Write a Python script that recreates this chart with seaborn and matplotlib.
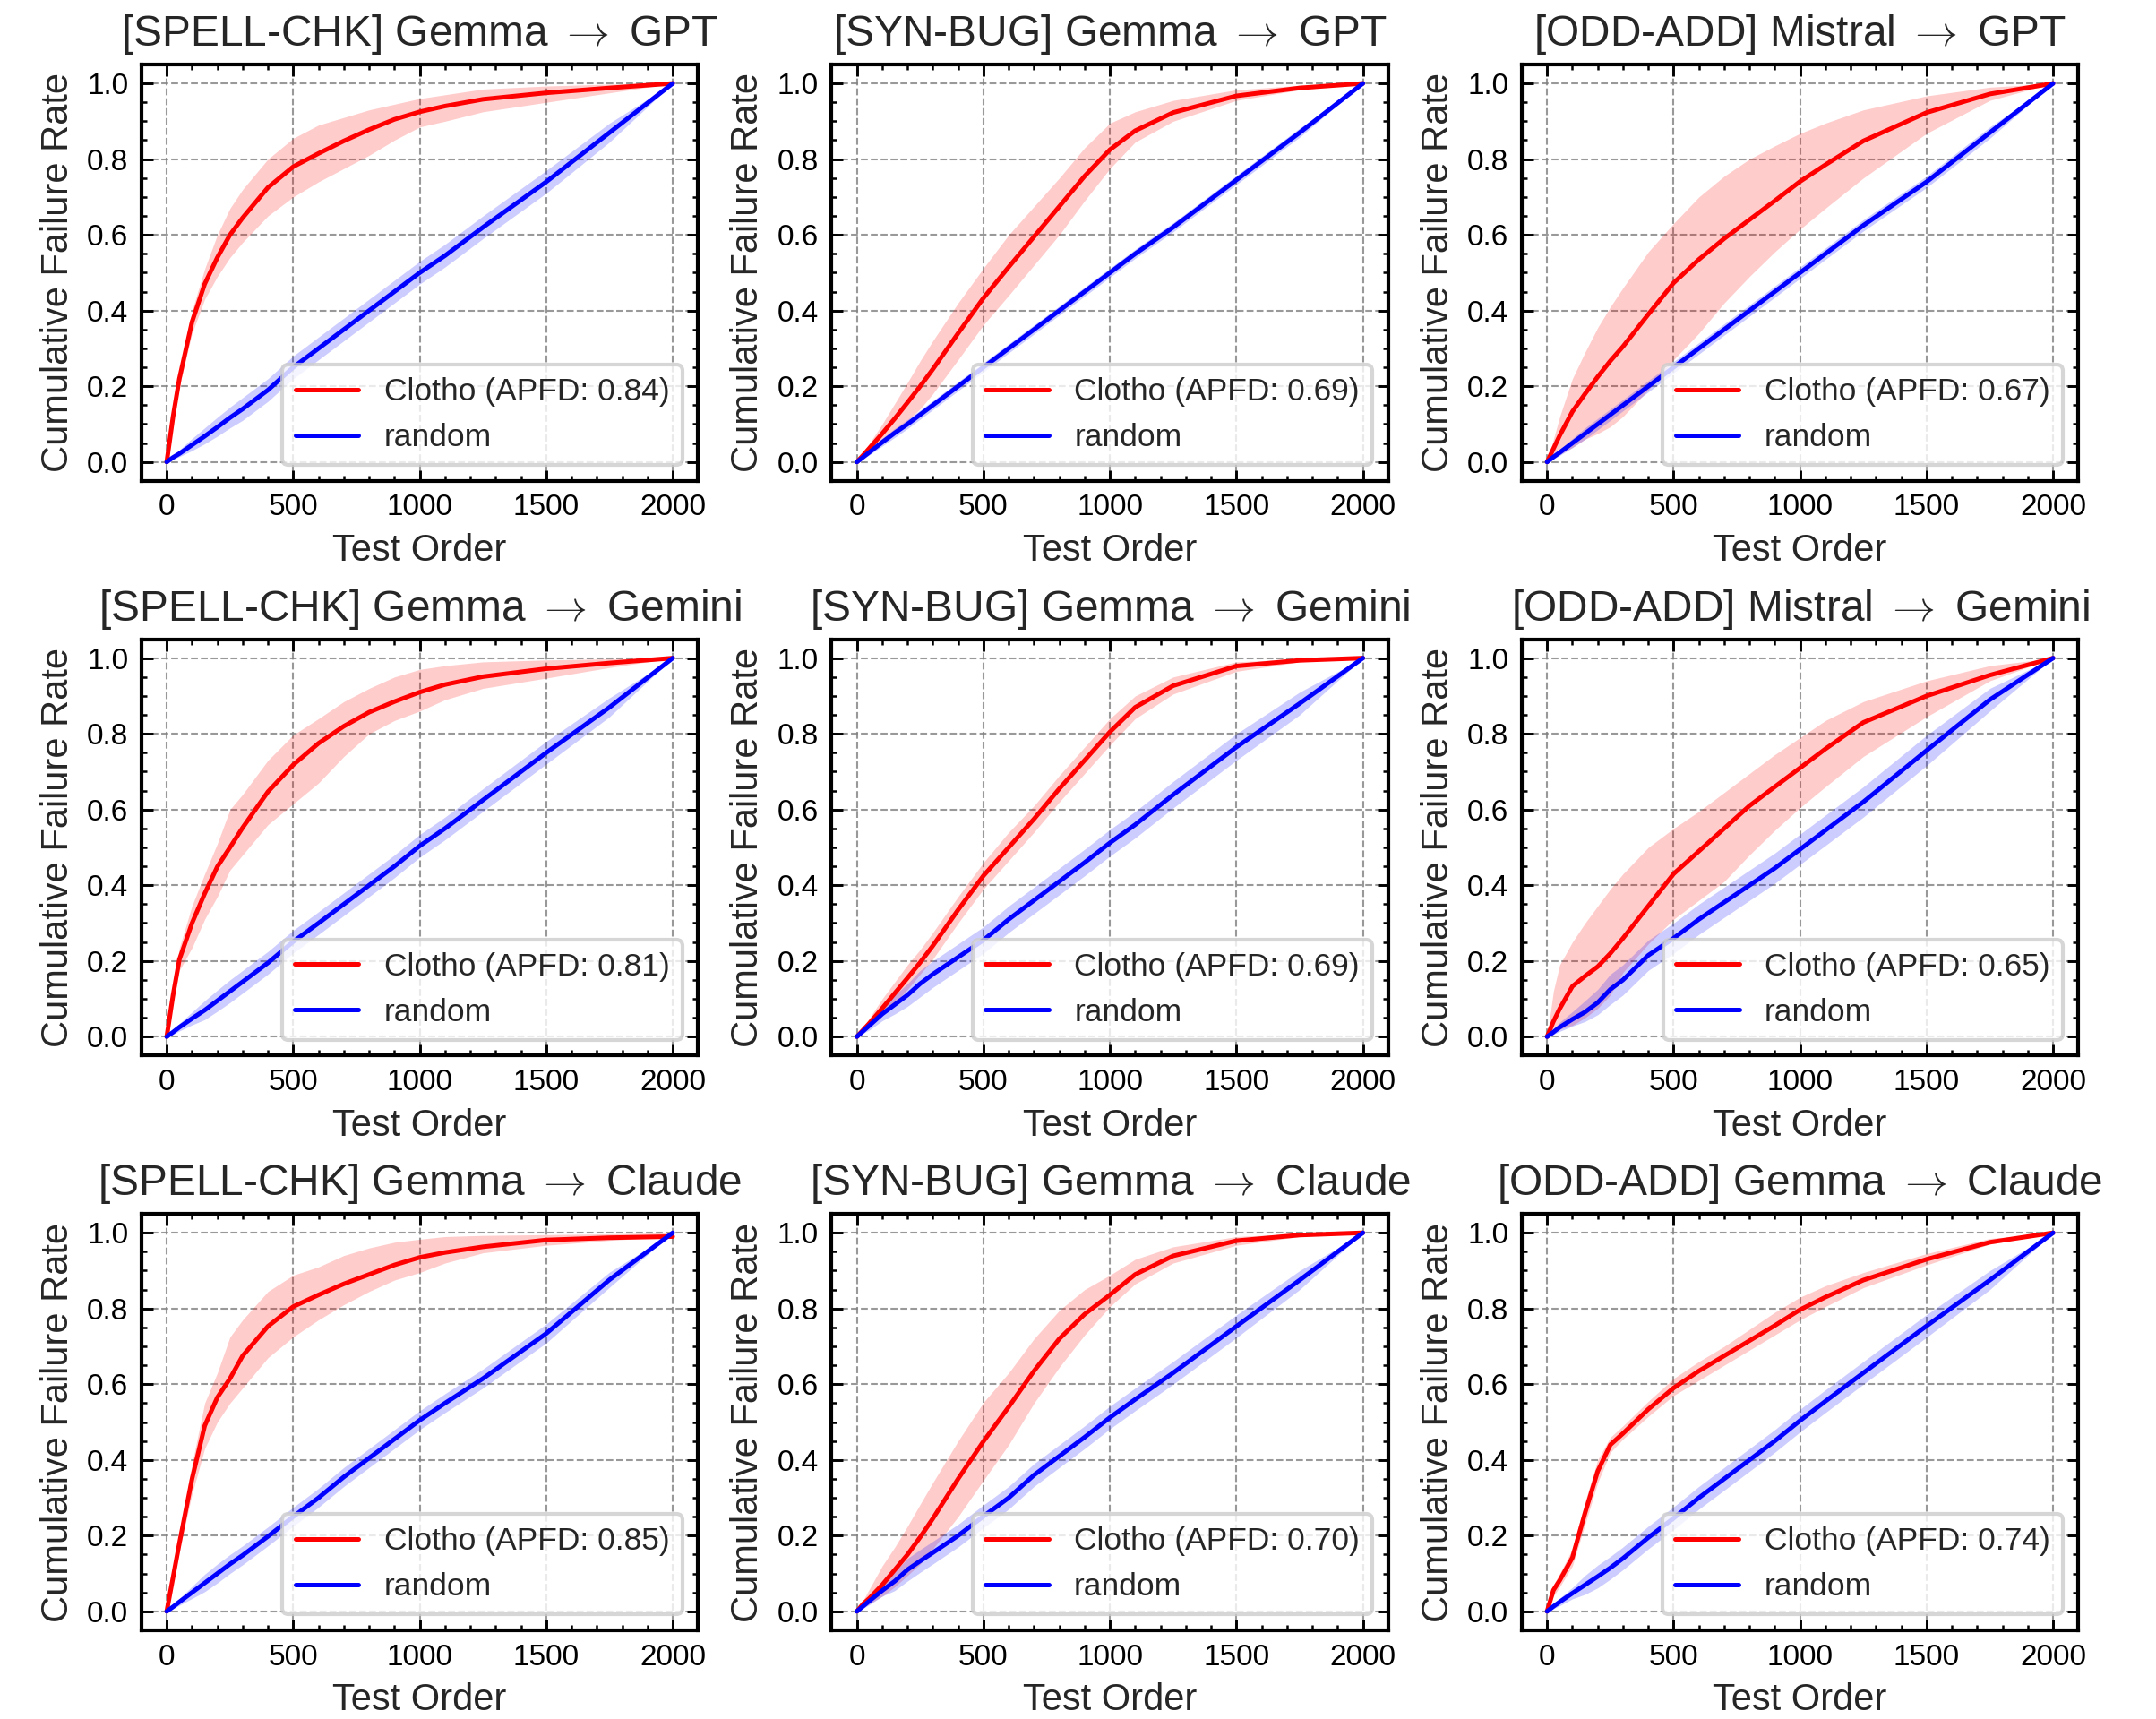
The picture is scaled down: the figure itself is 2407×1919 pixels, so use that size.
import matplotlib
matplotlib.use("Agg")
import matplotlib.pyplot as plt
import seaborn as sns
import pandas as pd
from matplotlib.ticker import MultipleLocator

# ---------------- data ----------------
test_order = [0, 25, 50, 100, 150, 200, 250, 300, 400, 500, 600, 700, 800, 900,
              1000, 1100, 1250, 1500, 1750, 2000]

titles = [
    r"[SPELL-CHK] Gemma $\rightarrow$ GPT",
    r"[SYN-BUG] Gemma $\rightarrow$ GPT",
    r"[ODD-ADD] Mistral $\rightarrow$ GPT",
    r"[SPELL-CHK] Gemma $\rightarrow$ Gemini",
    r"[SYN-BUG] Gemma $\rightarrow$ Gemini",
    r"[ODD-ADD] Mistral $\rightarrow$ Gemini",
    r"[SPELL-CHK] Gemma $\rightarrow$ Claude",
    r"[SYN-BUG] Gemma $\rightarrow$ Claude",
    r"[ODD-ADD] Gemma $\rightarrow$ Claude",
]
apfd = ["0.84", "0.69", "0.67", "0.81", "0.69", "0.65", "0.85", "0.70", "0.74"]

# Clotho ordering: mean / lower / upper
clotho_mean = [
    [0, .12, .22, .37, .47, .54, .60, .645, .725, .78, .815, .848, .878, .905, .925, .94, .958, .975, .988, 1.0],
    [0, .018, .037, .075, .115, .157, .20, .245, .34, .433, .515, .595, .675, .755, .825, .875, .923, .967, .988, 1.0],
    [0, .035, .07, .133, .18, .225, .267, .305, .39, .473, .535, .59, .64, .69, .741, .785, .848, .923, .972, 1.0],
    [0, .11, .204, .30, .378, .449, .50, .552, .647, .718, .775, .82, .857, .885, .91, .93, .951, .972, .987, 1.0],
    [0, .018, .036, .075, .115, .155, .196, .24, .335, .425, .50, .575, .655, .73, .805, .87, .927, .979, .994, 1.0],
    [0, .04, .074, .133, .16, .185, .22, .26, .345, .43, .49, .55, .61, .66, .71, .76, .83, .90, .955, 1.0],
    [0, .09, .18, .35, .49, .565, .615, .675, .753, .805, .836, .865, .89, .915, .935, .948, .963, .981, .987, .99],
    [0, .02, .035, .07, .11, .15, .196, .245, .35, .449, .54, .635, .72, .785, .836, .89, .939, .979, .994, 1.0],
    [0, .056, .082, .142, .26, .37, .44, .47, .534, .59, .635, .675, .715, .755, .797, .83, .875, .93, .975, 1.0],
]
clotho_lo = [
    [0, .11, .20, .34, .43, .49, .54, .58, .65, .70, .74, .775, .81, .85, .885, .90, .925, .95, .975, 1.0],
    [0, .012, .025, .05, .08, .11, .14, .18, .27, .362, .44, .52, .60, .69, .775, .845, .90, .955, .983, 1.0],
    [0, .01, .02, .038, .06, .075, .093, .12, .19, .27, .34, .42, .49, .555, .615, .67, .75, .868, .955, 1.0],
    [0, .09, .175, .235, .31, .37, .44, .48, .56, .615, .67, .74, .80, .835, .86, .89, .92, .947, .975, 1.0],
    [0, .012, .025, .055, .09, .125, .165, .205, .30, .39, .465, .54, .62, .695, .77, .84, .905, .965, .99, 1.0],
    [0, .01, .02, .03, .05, .075, .11, .17, .245, .31, .36, .41, .48, .545, .605, .66, .74, .845, .94, 1.0],
    [0, .08, .16, .31, .43, .50, .55, .59, .67, .725, .77, .81, .845, .875, .895, .92, .947, .967, .98, .99],
    [0, .01, .02, .04, .065, .095, .125, .165, .25, .346, .44, .55, .645, .73, .805, .865, .92, .967, .99, 1.0],
    [0, .04, .065, .12, .23, .34, .42, .455, .515, .57, .61, .65, .69, .73, .77, .805, .855, .915, .97, 1.0],
]
clotho_hi = [
    [0, .13, .24, .40, .51, .60, .67, .72, .80, .855, .89, .91, .93, .945, .96, .97, .985, .993, .998, 1.0],
    [0, .025, .05, .10, .155, .21, .267, .32, .42, .512, .60, .675, .75, .83, .895, .925, .955, .983, .995, 1.0],
    [0, .06, .12, .22, .29, .355, .41, .46, .555, .63, .70, .755, .80, .835, .868, .895, .93, .967, .99, 1.0],
    [0, .125, .235, .346, .43, .51, .60, .64, .73, .797, .84, .885, .92, .95, .97, .98, .99, .995, .998, 1.0],
    [0, .025, .05, .10, .145, .19, .23, .275, .37, .46, .54, .61, .69, .765, .84, .90, .95, .99, .998, 1.0],
    [0, .12, .19, .25, .30, .345, .39, .43, .50, .55, .595, .645, .695, .745, .79, .835, .885, .94, .98, 1.0],
    [0, .10, .20, .39, .55, .63, .725, .77, .845, .888, .91, .94, .96, .975, .983, .99, .993, .995, .997, 1.0],
    [0, .03, .06, .12, .17, .225, .283, .34, .45, .552, .63, .72, .795, .85, .888, .93, .963, .99, .998, 1.0],
    [0, .07, .10, .165, .29, .40, .46, .49, .555, .615, .66, .70, .745, .79, .83, .86, .895, .945, .985, 1.0],
]

# random ordering: mean / lower / upper
random_mean = [
    [0, .012, .022, .045, .068, .092, .117, .14, .19, .25, .30, .35, .40, .45, .50, .545, .62, .74, .87, 1.0],
    [0, .013, .026, .052, .077, .10, .125, .15, .20, .25, .30, .35, .40, .45, .50, .55, .62, .745, .87, 1.0],
    [0, .013, .025, .05, .075, .10, .125, .15, .20, .25, .30, .35, .40, .45, .50, .55, .625, .74, .87, 1.0],
    [0, .012, .025, .048, .07, .095, .12, .145, .195, .251, .30, .35, .40, .45, .504, .55, .625, .75, .87, 1.0],
    [0, .015, .03, .06, .085, .11, .14, .165, .21, .255, .31, .36, .41, .46, .512, .56, .639, .765, .88, 1.0],
    [0, .012, .025, .046, .065, .09, .125, .15, .215, .26, .31, .355, .40, .445, .495, .545, .62, .756, .89, 1.0],
    [0, .012, .025, .05, .075, .10, .125, .148, .198, .25, .30, .355, .405, .455, .505, .55, .615, .734, .876, 1.0],
    [0, .014, .028, .055, .08, .11, .133, .155, .20, .251, .30, .36, .41, .46, .512, .56, .63, .753, .875, 1.0],
    [0, .013, .025, .048, .07, .092, .115, .14, .195, .246, .30, .35, .40, .45, .504, .555, .63, .754, .875, 1.0],
]
random_lo = [
    [0, .007, .014, .03, .048, .068, .09, .11, .16, .22, .27, .32, .37, .42, .47, .515, .59, .71, .845, 1.0],
    [0, .009, .019, .042, .065, .088, .113, .138, .188, .238, .288, .338, .388, .438, .488, .538, .608, .733, .858, 1.0],
    [0, .008, .017, .038, .06, .085, .11, .135, .185, .235, .285, .335, .385, .435, .485, .535, .61, .725, .855, 1.0],
    [0, .006, .015, .031, .045, .067, .09, .115, .165, .221, .27, .32, .37, .42, .474, .52, .595, .72, .845, 1.0],
    [0, .009, .018, .042, .06, .08, .105, .13, .175, .22, .275, .325, .375, .425, .477, .525, .604, .73, .85, 1.0],
    [0, .006, .014, .028, .04, .058, .085, .11, .175, .22, .27, .315, .36, .405, .455, .505, .58, .716, .86, 1.0],
    [0, .007, .016, .034, .052, .075, .10, .123, .173, .225, .275, .33, .38, .43, .48, .525, .59, .709, .856, 1.0],
    [0, .008, .018, .04, .055, .08, .103, .125, .17, .221, .27, .33, .38, .43, .482, .53, .60, .723, .85, 1.0],
    [0, .007, .015, .033, .045, .062, .085, .11, .165, .216, .27, .32, .37, .42, .474, .525, .60, .724, .85, 1.0],
]
random_hi = [
    [0, .017, .032, .062, .09, .118, .145, .17, .22, .28, .33, .38, .43, .48, .53, .575, .65, .77, .895, 1.0],
    [0, .017, .033, .062, .089, .112, .137, .162, .212, .262, .312, .362, .412, .462, .512, .562, .632, .757, .882, 1.0],
    [0, .018, .033, .062, .09, .115, .14, .165, .215, .265, .315, .365, .415, .465, .515, .565, .64, .755, .885, 1.0],
    [0, .018, .035, .065, .095, .123, .15, .175, .225, .281, .33, .38, .43, .48, .534, .58, .655, .78, .895, 1.0],
    [0, .021, .042, .078, .11, .14, .175, .20, .245, .29, .345, .395, .445, .495, .547, .595, .674, .80, .91, 1.0],
    [0, .02, .038, .066, .095, .125, .165, .19, .255, .30, .35, .395, .44, .485, .535, .585, .66, .796, .92, 1.0],
    [0, .017, .034, .066, .098, .125, .15, .173, .223, .275, .325, .38, .43, .48, .53, .575, .64, .759, .896, 1.0],
    [0, .02, .038, .07, .105, .14, .163, .185, .23, .281, .33, .39, .44, .49, .542, .59, .66, .783, .90, 1.0],
    [0, .019, .035, .063, .095, .122, .145, .17, .225, .276, .33, .38, .43, .48, .534, .585, .66, .784, .90, 1.0],
]

# ---------------- style ----------------
sns.set_style("ticks")
plt.rcParams.update({
    "font.family": ["Liberation Sans", "DejaVu Sans"],
    "mathtext.fontset": "cm",
    "font.size": 10,
    "axes.linewidth": 1.0,
    "xtick.direction": "in",
    "ytick.direction": "in",
    "xtick.top": True,
    "ytick.right": True,
    "xtick.major.size": 3,
    "ytick.major.size": 3,
    "xtick.minor.size": 1.5,
    "ytick.minor.size": 1.5,
    "xtick.major.width": 0.7,
    "ytick.major.width": 0.7,
    "xtick.minor.width": 0.6,
    "ytick.minor.width": 0.6,
    "xtick.color": "black",
    "ytick.color": "black",
    "axes.edgecolor": "black",
    "xtick.labelsize": 8,
    "ytick.labelsize": 8,
})

fig, axes = plt.subplots(3, 3, figsize=(2407 / 300, 1919 / 300), dpi=300)
fig.subplots_adjust(left=0.0656, right=0.964, top=0.9625, bottom=0.0516,
                    wspace=0.24, hspace=0.38)

for i, ax in enumerate(axes.flat):
    df = pd.DataFrame({
        "Test Order": test_order,
        "clotho": clotho_mean[i],
        "random": random_mean[i],
    })
    ax.fill_between(test_order, clotho_lo[i], clotho_hi[i], color="red", alpha=0.2, linewidth=0)
    ax.fill_between(test_order, random_lo[i], random_hi[i], color="blue", alpha=0.2, linewidth=0)
    sns.lineplot(data=df, x="Test Order", y="clotho", ax=ax, color="red", linewidth=1.2,
                 label=f"Clotho (APFD: {apfd[i]})", errorbar=None)
    sns.lineplot(data=df, x="Test Order", y="random", ax=ax, color="blue", linewidth=1.2,
                 label="random", errorbar=None)
    ax.set_xlim(-100, 2100)
    ax.set_ylim(-0.05, 1.05)
    ax.xaxis.set_major_locator(MultipleLocator(500))
    ax.xaxis.set_minor_locator(MultipleLocator(100))
    ax.yaxis.set_major_locator(MultipleLocator(0.2))
    ax.yaxis.set_minor_locator(MultipleLocator(0.05))
    ax.tick_params(which="both", direction="in", top=True, right=True)
    ax.grid(True, which="major", linestyle="--", color="gray", linewidth=0.5, alpha=0.8)
    ax.set_xlabel("Test Order", fontsize=10, labelpad=3)
    ax.set_ylabel("Cumulative Failure Rate", fontsize=10, labelpad=3)
    ax.set_title(titles[i], fontsize=11.5, pad=5)
    leg = ax.legend(loc="lower right", fontsize=8.5, frameon=True, fancybox=True, framealpha=0.8)
    leg.get_frame().set_edgecolor("0.8")

fig.savefig("out.png", dpi=300)
